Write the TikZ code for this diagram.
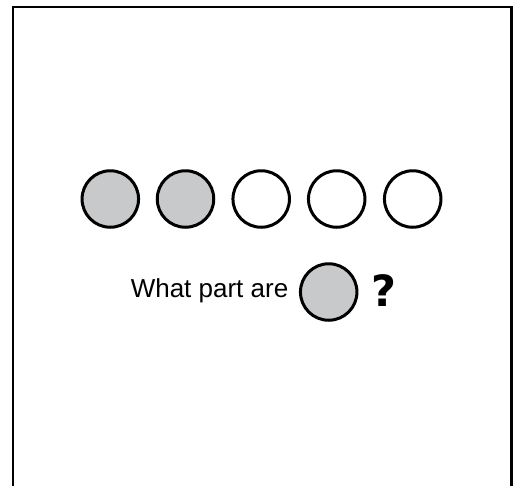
\documentclass[tikz,border=0pt]{standalone}
\usepackage{fontspec}
\setmainfont{Liberation Sans}
\newfontfamily\qfont{DejaVu Sans}
\definecolor{cgray}{RGB}{200,201,203}
\begin{document}
\begin{tikzpicture}[x=1pt,y=-1pt,
  dot/.style={circle,draw=black,line width=3pt,minimum size=56.5pt,inner sep=0pt},
  shaded/.style={dot,fill=cgray},
  empty/.style={dot,fill=white}]
\useasboundingbox (0,0) rectangle (517,485);
\draw[line width=2.6pt] (13,486) -- (13,7) -- (511.7,7) -- (511.7,486);
\node[shaded] (c1) at (110.3,199) {};
\node[shaded] (c2) at (185.5,199) {};
\node[empty] (c3) at (261.2,199) {};
\node[empty] (c4) at (336.7,199) {};
\node[empty] (c5) at (412.7,199) {};
\node[anchor=base east,font=\fontsize{26}{30}\selectfont,inner sep=0pt] (t) at (288.5,297.7) {What part are};
\node[shaded] (c6) at (328.7,292) {};
\node[anchor=base west,font=\qfont\bfseries\fontsize{43}{48}\selectfont,inner sep=0pt] (q) at (371,306.5) {?};
\end{tikzpicture}
\end{document}
